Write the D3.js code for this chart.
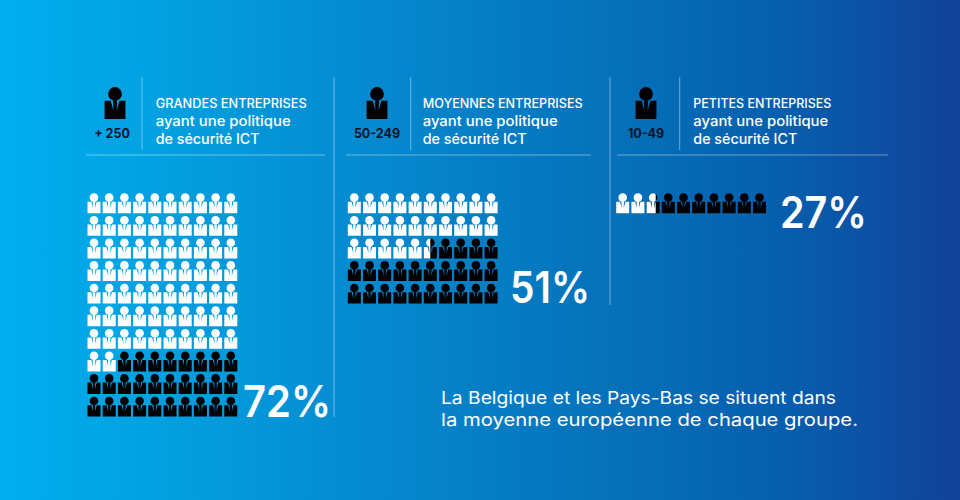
<!DOCTYPE html>
<html><head><meta charset="utf-8">
<script src="https://d3js.org/d3.v7.min.js"></script>
<style>html,body{margin:0;padding:0;background:#0a7cc4}svg{display:block}text{font-family:Inter,sans-serif}</style>
</head><body><svg id="c" width="960" height="500"></svg>
<script>
const groupNames = ["GRANDES ENTREPRISES", "MOYENNES ENTREPRISES", "PETITES ENTREPRISES"];
const sizeLabels = ["+ 250", "50-249", "10-49"];
const shares = [72, 51, 27];
const rowCounts = [10, 5, 1];
const columnCount = 10;
const subtitleLines = ["ayant une politique", "de sécurité ICT"];
const footerLines = ["La Belgique et les Pays-Bas se situent dans", "la moyenne européenne de chaque groupe."];

const panelGridX = [94, 354.3, 622.7];
const panelIconX = [115, 377, 646];
const panelLabelX = [112, 377, 646];
const panelTextX = [155.7, 422.7, 693.3];
const panelDividerX = [142, 410.7, 679.7];
const panelRule = [[86, 325], [346, 591], [617, 888]];
const pctLeft = [243, 510, 780];
const pctWidth = [88, 80, 87];
const pctBaseline = [417, 303, 228];
const titleWidth = [151, 160, 138];
const subtitleWidth = [135, 104];
const footerWidth = [395, 417];

const svg = d3.select("#c");
const defs = svg.append("defs");
const grad = defs.append("linearGradient").attr("id", "bg")
  .attr("gradientUnits", "userSpaceOnUse").attr("x1", 0).attr("y1", 250).attr("x2", 960).attr("y2", 250);
[[0, "#00aeef"], [0.15, "#02a2e2"], [0.4, "#0588ce"], [0.62, "#0573bb"], [0.82, "#065ead"], [1, "#12429a"]]
  .forEach(([o, c]) => grad.append("stop").attr("offset", o).attr("stop-color", c));
svg.append("rect").attr("width", 960).attr("height", 500).attr("fill", "url(#bg)");

const bodyPath = "M-6.5 4.2H-2.7L-1 10.5L-1.3 4.2H1.3L1 10.5L2.7 4.2H6.5V15.6H-6.5Z";
function person(g, color) {
  g.append("circle").attr("r", 4.3).attr("fill", color);
  g.append("path").attr("d", bodyPath).attr("fill", color);
}

const lineCol = "rgba(255,255,255,0.42)";
const vLines = [[334, 77, 417], [610, 77, 305]];
svg.selectAll(".v").data(vLines).join("line").attr("x1", d => d[0]).attr("x2", d => d[0]).attr("y1", d => d[1]).attr("y2", d => d[2]).attr("stroke", lineCol);

groupNames.forEach((name, i) => {
  const x = d3.scalePoint().domain(d3.range(columnCount)).range([panelGridX[i], panelGridX[i] + 136.8]);
  const y = d3.scalePoint().domain(d3.range(10)).range([197.6, 197.6 + 203.4]);
  const total = rowCounts[i] * columnCount;
  const filled = d3.scaleLinear().domain([0, 100]).range([0, total])(shares[i]);
  const clipX = d3.scaleLinear().domain([0, 1]).range([-6.5, 6.5]);

  svg.append("line").attr("x1", panelDividerX[i]).attr("x2", panelDividerX[i]).attr("y1", 77).attr("y2", 150).attr("stroke", lineCol);
  svg.append("line").attr("x1", panelRule[i][0]).attr("x2", panelRule[i][1]).attr("y1", 155).attr("y2", 155).attr("stroke", lineCol);

  const hi = svg.append("g").attr("transform", `translate(${panelIconX[i]},94) scale(1.6)`);
  person(hi, "#000");
  svg.append("text").attr("x", panelLabelX[i]).attr("y", 137.5).attr("text-anchor", "middle")
    .attr("font-size", 12.5).attr("font-weight", 700).attr("fill", "#04152b").text(sizeLabels[i]);

  svg.append("text").attr("x", panelTextX[i]).attr("y", 108).attr("font-size", 12.8).attr("font-weight", 500).attr("fill", "#fff")
    .attr("textLength", titleWidth[i]).attr("lengthAdjust", "spacingAndGlyphs").text(name);
  subtitleLines.forEach((t, k) => svg.append("text").attr("x", panelTextX[i]).attr("y", 126 + k * 18)
    .attr("font-size", 14).attr("font-weight", 500).attr("fill", "#fff")
    .attr("textLength", subtitleWidth[k]).attr("lengthAdjust", "spacingAndGlyphs").text(t));

  d3.range(total).forEach(n => {
    const g = svg.append("g").attr("transform", `translate(${x(n % columnCount)},${y(Math.floor(n / columnCount))})`);
    const frac = Math.max(0, Math.min(1, filled - n));
    if (frac >= 1) person(g, "#fff");
    else if (frac <= 0) person(g, "#000");
    else {
      person(g, "#000");
      const id = `clip${i}-${n}`;
      defs.append("clipPath").attr("id", id).append("rect").attr("x", -8).attr("y", -8)
        .attr("width", clipX(frac) + 8).attr("height", 30);
      const w = g.append("g").attr("clip-path", `url(#${id})`);
      person(w, "#fff");
    }
  });

  svg.append("text").attr("x", pctLeft[i]).attr("y", pctBaseline[i])
    .attr("font-size", 44).attr("font-weight", 600).attr("fill", "#fff")
    .attr("textLength", pctWidth[i]).attr("lengthAdjust", "spacingAndGlyphs").text(shares[i] + "%");
});

footerLines.forEach((t, k) => svg.append("text").attr("x", 441).attr("y", 404 + k * 21.5)
  .attr("font-size", 17.5).attr("font-weight", 400).attr("fill", "#fff")
  .attr("textLength", footerWidth[k]).attr("lengthAdjust", "spacingAndGlyphs").text(t));
</script></body></html>
